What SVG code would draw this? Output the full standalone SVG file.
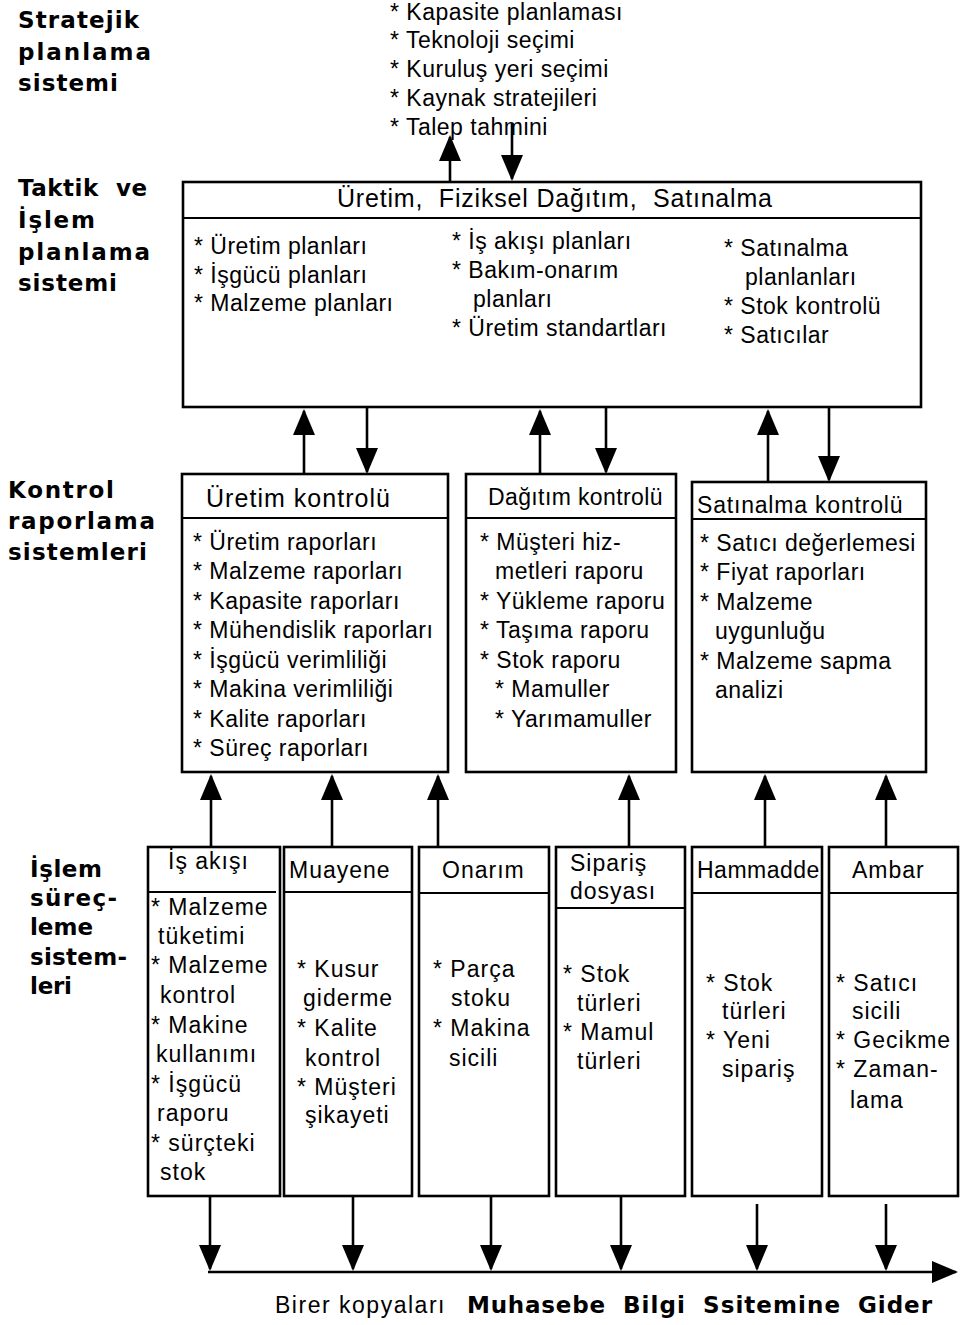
<svg xmlns="http://www.w3.org/2000/svg" width="961" height="1325" viewBox="0 0 961 1325">
  <style>
    .t { font-family: "Liberation Sans", Arial, Helvetica, sans-serif; font-size: 23px; letter-spacing: 0.5px; fill: #000; }
    .h { font-family: "Liberation Sans", Arial, Helvetica, sans-serif; font-size: 25px; fill: #000; }
    .s { font-family: "Liberation Sans", Arial, Helvetica, sans-serif; font-size: 23px; letter-spacing: 1px; fill: #000; }
    .b { font-family: "DejaVu Sans", "Liberation Sans", Arial, sans-serif; font-size: 23px; font-weight: bold; fill: #000; }
    .box { fill: #fff; stroke: #000; stroke-width: 2.6; }
    .div { stroke: #000; stroke-width: 2.2; fill: none; }
    .ln { stroke: #000; stroke-width: 2.6; fill: none; marker-end: url(#ah); }
  </style>
  <defs>
    <marker id="ah" markerUnits="userSpaceOnUse" markerWidth="28" markerHeight="22" refX="24" refY="11" orient="auto">
      <path d="M0,0 L26,11 L0,22 Z" fill="#000"/>
    </marker>
  </defs>

  <rect width="961" height="1325" fill="#fff"/>

  <!-- level labels -->
  <g id="lbl-strategic">
    <text class="b" x="18" y="28" textLength="121">Stratejik</text>
    <text class="b" x="18" y="60" textLength="133">planlama</text>
    <text class="b" x="18" y="91" textLength="100">sistemi</text>
  </g>
  <g id="lbl-tactical">
    <text class="b" x="18" y="196" textLength="129" xml:space="preserve">Taktik  ve</text>
    <text class="b" x="18" y="228" textLength="77">İşlem</text>
    <text class="b" x="18" y="260" textLength="132">planlama</text>
    <text class="b" x="18" y="291" textLength="99">sistemi</text>
  </g>
  <g id="lbl-control">
    <text class="b" x="8" y="498" textLength="106">Kontrol</text>
    <text class="b" x="8" y="529" textLength="147">raporlama</text>
    <text class="b" x="8" y="560" textLength="139">sistemleri</text>
  </g>
  <g id="lbl-processing">
    <text class="b" x="30" y="877" textLength="72">İşlem</text>
    <text class="b" x="30" y="906" textLength="87">süreç-</text>
    <text class="b" x="30" y="935" textLength="63">leme</text>
    <text class="b" x="30" y="965" textLength="97">sistem-</text>
    <text class="b" x="30" y="994" textLength="42">leri</text>
  </g>

  <!-- strategic planning list -->
  <g id="strategic">
    <text class="t" x="390" y="20">* Kapasite planlaması</text>
    <text class="t" x="390" y="48">* Teknoloji seçimi</text>
    <text class="t" x="390" y="77">* Kuruluş yeri seçimi</text>
    <text class="t" x="390" y="106">* Kaynak stratejileri</text>
    <text class="t" x="390" y="135">* Talep tahmini</text>
  </g>

  <!-- tactical / operational planning -->
  <g id="planning">
    <rect class="box" x="183" y="182" width="738" height="225"/>
    <line class="div" x1="183" y1="218" x2="921" y2="218"/>
    <text class="h" x="337" y="207" textLength="435" xml:space="preserve">Üretim,  Fiziksel Dağıtım,  Satınalma</text>
    <text class="t" x="194" y="254">* Üretim planları</text>
    <text class="t" x="194" y="283">* İşgücü planları</text>
    <text class="t" x="194" y="311">* Malzeme planları</text>
    <text class="t" x="452" y="249">* İş akışı planları</text>
    <text class="t" x="452" y="278">* Bakım-onarım</text>
    <text class="t" x="473" y="307">planları</text>
    <text class="t" x="452" y="336">* Üretim standartları</text>
    <text class="t" x="724" y="256">* Satınalma</text>
    <text class="t" x="745" y="285">planlanları</text>
    <text class="t" x="724" y="314">* Stok kontrolü</text>
    <text class="t" x="724" y="343">* Satıcılar</text>
  </g>

  <!-- control reporting boxes -->
  <g id="ctl-production">
    <rect class="box" x="182" y="474" width="266" height="298"/>
    <line class="div" x1="182" y1="518" x2="448" y2="518"/>
    <text class="h" x="206" y="507" textLength="184">Üretim kontrolü</text>
    <text class="t" x="193" y="550">* Üretim raporları</text>
    <text class="t" x="193" y="579">* Malzeme raporları</text>
    <text class="t" x="193" y="609">* Kapasite raporları</text>
    <text class="t" x="193" y="638">* Mühendislik raporları</text>
    <text class="t" x="193" y="668">* İşgücü verimliliği</text>
    <text class="t" x="193" y="697">* Makina verimliliği</text>
    <text class="t" x="193" y="727">* Kalite raporları</text>
    <text class="t" x="193" y="756">* Süreç raporları</text>
  </g>
  <g id="ctl-distribution">
    <rect class="box" x="466" y="474" width="210" height="298"/>
    <line class="div" x1="466" y1="518" x2="676" y2="518"/>
    <text class="t" x="488" y="505" textLength="175">Dağıtım kontrolü</text>
    <text class="t" x="480" y="550">* Müşteri hiz-</text>
    <text class="t" x="495" y="579">metleri raporu</text>
    <text class="t" x="480" y="609">* Yükleme raporu</text>
    <text class="t" x="480" y="638">* Taşıma raporu</text>
    <text class="t" x="480" y="668">* Stok raporu</text>
    <text class="t" x="495" y="697">* Mamuller</text>
    <text class="t" x="495" y="727">* Yarımamuller</text>
  </g>
  <g id="ctl-purchasing">
    <rect class="box" x="692" y="482" width="234" height="290"/>
    <line class="div" x1="692" y1="519" x2="926" y2="519"/>
    <text class="t" x="697" y="513" textLength="206">Satınalma kontrolü</text>
    <text class="t" x="700" y="551">* Satıcı değerlemesi</text>
    <text class="t" x="700" y="580">* Fiyat raporları</text>
    <text class="t" x="700" y="610">* Malzeme</text>
    <text class="t" x="715" y="639">uygunluğu</text>
    <text class="t" x="700" y="669">* Malzeme sapma</text>
    <text class="t" x="715" y="698">analizi</text>
  </g>

  <!-- transaction processing boxes -->
  <g id="tp-workflow">
    <rect class="box" x="148" y="847" width="132" height="349"/>
    <line class="div" x1="148" y1="892" x2="276" y2="892"/>
    <text class="s" x="168" y="869">İş akışı</text>
    <text class="s" x="151" y="915">* Malzeme</text>
    <text class="s" x="158" y="944">tüketimi</text>
    <text class="s" x="151" y="973">* Malzeme</text>
    <text class="s" x="160" y="1003">kontrol</text>
    <text class="s" x="151" y="1033">* Makine</text>
    <text class="s" x="156" y="1062">kullanımı</text>
    <text class="s" x="151" y="1092">* İşgücü</text>
    <text class="s" x="157" y="1121">raporu</text>
    <text class="s" x="151" y="1151">* sürçteki</text>
    <text class="s" x="160" y="1180">stok</text>
  </g>
  <g id="tp-inspection">
    <rect class="box" x="284" y="847" width="128" height="349"/>
    <line class="div" x1="284" y1="892" x2="412" y2="892"/>
    <text class="s" x="289" y="878">Muayene</text>
    <text class="s" x="297" y="977">* Kusur</text>
    <text class="s" x="303" y="1006">giderme</text>
    <text class="s" x="297" y="1036">* Kalite</text>
    <text class="s" x="305" y="1066">kontrol</text>
    <text class="s" x="297" y="1095">* Müşteri</text>
    <text class="s" x="305" y="1123">şikayeti</text>
  </g>
  <g id="tp-repair">
    <rect class="box" x="419" y="847" width="130" height="349"/>
    <line class="div" x1="419" y1="893" x2="549" y2="893"/>
    <text class="s" x="442" y="878">Onarım</text>
    <text class="s" x="433" y="977">* Parça</text>
    <text class="s" x="451" y="1006">stoku</text>
    <text class="s" x="433" y="1036">* Makina</text>
    <text class="s" x="449" y="1066">sicili</text>
  </g>
  <g id="tp-orders">
    <rect class="box" x="556" y="847" width="129" height="349"/>
    <line class="div" x1="556" y1="908" x2="685" y2="908"/>
    <text class="s" x="570" y="871">Sipariş</text>
    <text class="s" x="570" y="899">dosyası</text>
    <text class="s" x="563" y="982">* Stok</text>
    <text class="s" x="577" y="1011">türleri</text>
    <text class="s" x="563" y="1040">* Mamul</text>
    <text class="s" x="577" y="1069">türleri</text>
  </g>
  <g id="tp-rawmaterial">
    <rect class="box" x="692" y="847" width="130" height="349"/>
    <line class="div" x1="692" y1="893" x2="822" y2="893"/>
    <text class="t" x="697" y="878">Hammadde</text>
    <text class="s" x="706" y="991">* Stok</text>
    <text class="s" x="722" y="1019">türleri</text>
    <text class="s" x="706" y="1048">* Yeni</text>
    <text class="s" x="722" y="1077">sipariş</text>
  </g>
  <g id="tp-warehouse">
    <rect class="box" x="829" y="847" width="129" height="349"/>
    <line class="div" x1="829" y1="893" x2="958" y2="893"/>
    <text class="s" x="852" y="878">Ambar</text>
    <text class="s" x="836" y="991">* Satıcı</text>
    <text class="s" x="852" y="1019">sicili</text>
    <text class="s" x="836" y="1048">* Gecikme</text>
    <text class="s" x="836" y="1077">* Zaman-</text>
    <text class="s" x="850" y="1108">lama</text>
  </g>

  <!-- connectors -->
  <g id="connectors">
    <!-- strategic <-> tactical -->
    <line class="ln" x1="450" y1="182" x2="450" y2="137"/>
    <line class="ln" x1="512" y1="124" x2="512" y2="179"/>
    <!-- tactical <-> control -->
    <line class="ln" x1="304" y1="474" x2="304" y2="411"/>
    <line class="ln" x1="367" y1="407" x2="367" y2="472"/>
    <line class="ln" x1="540" y1="474" x2="540" y2="411"/>
    <line class="ln" x1="606" y1="407" x2="606" y2="472"/>
    <line class="ln" x1="768" y1="482" x2="768" y2="411"/>
    <line class="ln" x1="829" y1="407" x2="829" y2="480"/>
    <!-- processing -> control -->
    <line class="ln" x1="211" y1="847" x2="211" y2="776"/>
    <line class="ln" x1="332" y1="847" x2="332" y2="776"/>
    <line class="ln" x1="438" y1="847" x2="438" y2="776"/>
    <line class="ln" x1="629" y1="847" x2="629" y2="776"/>
    <line class="ln" x1="765" y1="847" x2="765" y2="776"/>
    <line class="ln" x1="886" y1="847" x2="886" y2="776"/>
    <!-- processing -> accounting copies -->
    <line class="ln" x1="210" y1="1196" x2="210" y2="1269"/>
    <line class="ln" x1="353" y1="1196" x2="353" y2="1269"/>
    <line class="ln" x1="491" y1="1196" x2="491" y2="1269"/>
    <line class="ln" x1="621" y1="1196" x2="621" y2="1269"/>
    <line class="ln" x1="757" y1="1204" x2="757" y2="1269"/>
    <line class="ln" x1="886" y1="1204" x2="886" y2="1269"/>
    <line class="ln" x1="208" y1="1272" x2="956" y2="1272"/>
  </g>

  <!-- accounting caption -->
  <g id="caption">
    <text class="t" x="275" y="1313" textLength="170">Birer kopyaları</text>
    <text class="b" x="467" y="1313" textLength="138">Muhasebe</text>
    <text class="b" x="623" y="1313" textLength="62">Bilgi</text>
    <text class="b" x="703" y="1313" textLength="137">Ssitemine</text>
    <text class="b" x="858" y="1313" textLength="74">Gider</text>
  </g>
</svg>
